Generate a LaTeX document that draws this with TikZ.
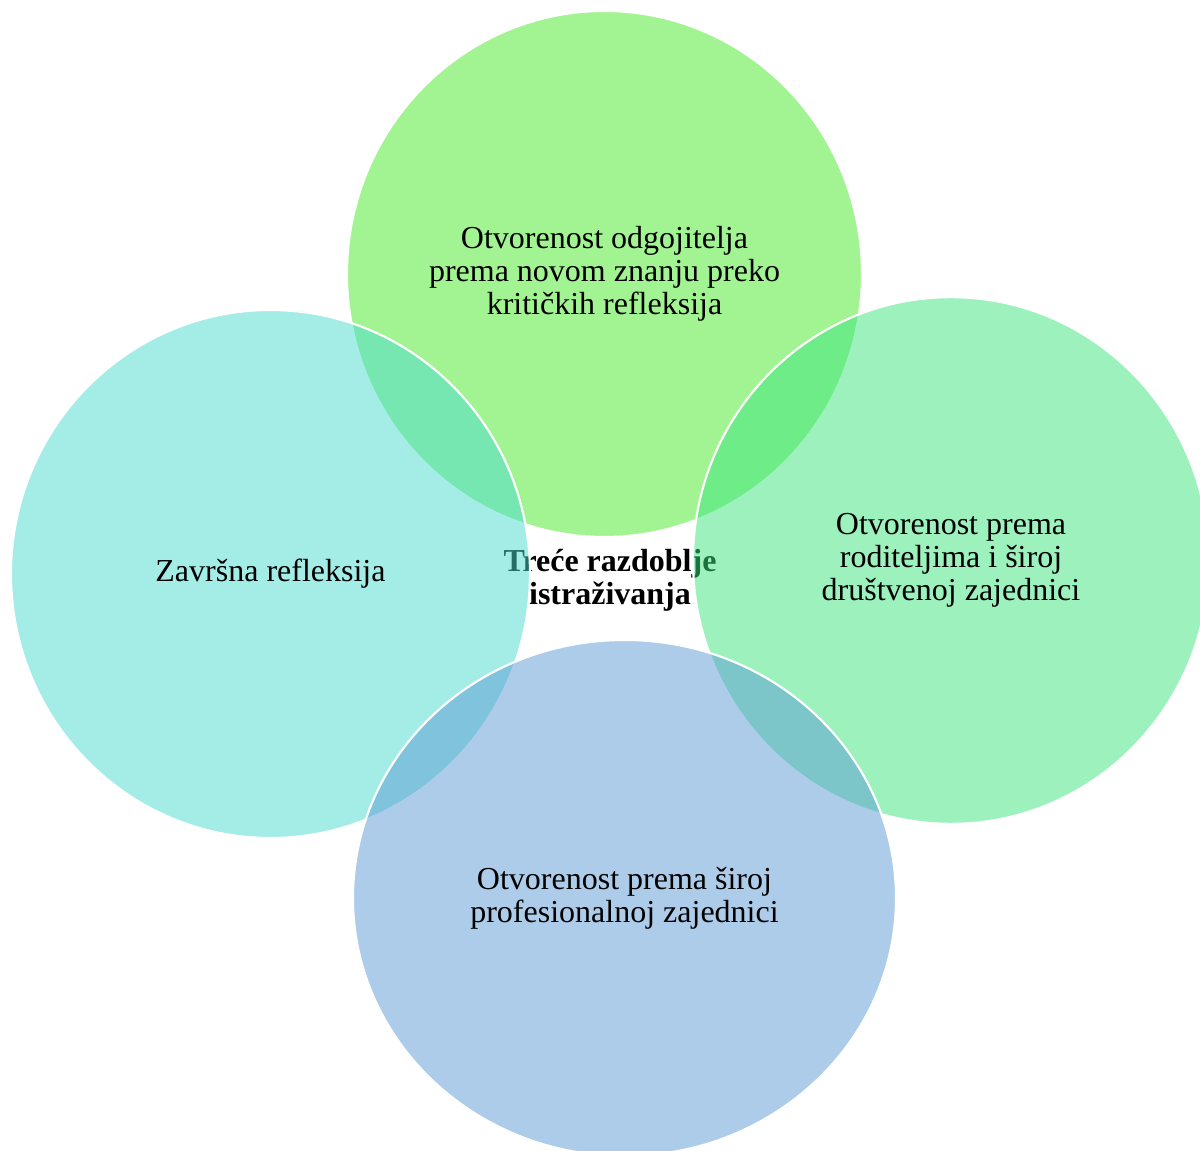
\documentclass[tikz,border=0pt]{standalone}
\usepackage{fontspec}
\setmainfont{Liberation Serif}
\usetikzlibrary{shapes.geometric}
\definecolor{topc}{RGB}{71,235,39}
\definecolor{leftc}{RGB}{75,219,207}
\definecolor{rightc}{RGB}{59,229,125}
\definecolor{botc}{RGB}{93,155,213}
\begin{document}
\begin{tikzpicture}[x=0.75pt,y=-0.75pt,
  txt/.style={font=\fontsize{24}{24.75}\selectfont},
  bub/.style={ellipse, draw=white, line width=1.6pt, fill opacity=0.5, draw opacity=1, text opacity=1,
    inner sep=0pt, align=center, text=black, txt}]
\useasboundingbox[fill=white] (0,0) rectangle (1200,1151);
\node[align=center, font=\fontsize{24}{24.75}\selectfont\bfseries] (center) at (610,580) {Treće razdoblje\\istraživanja};
\node[bub, fill=topc, minimum width=386.25pt, minimum height=394.5pt] (top) at (604.5,274)
  {Otvorenost odgojitelja\\prema novom znanju preko\\kritičkih refleksija};
\node[bub, fill=leftc, minimum width=389.25pt, minimum height=396pt] (left) at (270.5,574)
  {Završna refleksija};
\node[bub, fill=rightc, minimum width=387pt, minimum height=395pt] (right) at (951,560.5)
  {Otvorenost prema\\roditeljima i široj\\društvenoj zajednici};
\node[bub, fill=botc, minimum width=407.25pt, minimum height=387pt] (bottom) at (624.5,898)
  {Otvorenost prema široj\\profesionalnoj zajednici};
\end{tikzpicture}
\end{document}
